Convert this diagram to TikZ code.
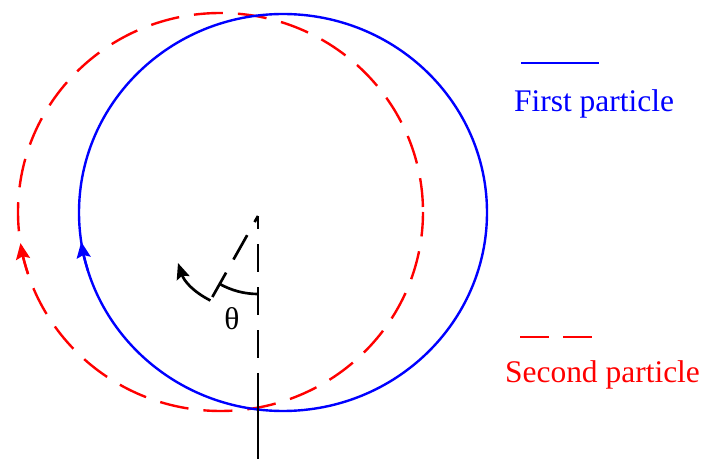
\documentclass[tikz,border=0pt]{standalone}
\usepackage{fontspec}
\setmainfont{Liberation Serif}
\usepackage{tikz}
\usetikzlibrary{arrows.meta,calc}
\definecolor{clFirst}{HTML}{0000FF}
\definecolor{clSecond}{HTML}{FF0000}
\tikzset{
  firstorbit/.style={draw=clFirst, line width=1.8pt},
  secondorbit/.style={draw=clSecond, line width=1.8pt,
                      dash pattern=on 21.75pt off 11.25pt, dash phase=29.25pt},
  refline/.style={draw=black, line width=2pt},
  refdash/.style={refline, dash pattern=on 21pt off 11.25pt, dash phase=21pt},
  orbittip/.style={-{Stealth[length=12pt, width=10.5pt, inset=2pt]}},
  turntip/.style={-{Stealth[length=12pt, width=10pt, inset=2pt]}},
  biglabel/.style={font=\fontsize{23.6}{28}\selectfont, anchor=base, inner sep=0pt},
}

\begin{document}
\begin{tikzpicture}[x=0.75pt, y=0.75pt]
  \useasboundingbox (0,0) rectangle (704,-459);
  % centres of the two orbits and of the angle
  \coordinate (cFirst) at (283,-212.5);
  \coordinate (cSecond) at (220.5,-212);
  \coordinate (pivot) at (258,-216);
  \coordinate (dashEnd) at (258,-373);
  \coordinate (axisEnd) at (258,-459);
  \coordinate (diagEnd) at ($(pivot)+(240.6:108)$);
  \coordinate (turnStart) at ($(pivot)+(240.6:97)$);
  \coordinate (turnEnd) at (178,-263);

  % orbits
  \draw[secondorbit] (cSecond) ellipse [x radius=202.5, y radius=199];
  \draw[firstorbit] (cFirst) ellipse [x radius=204, y radius=198.5];
  \draw[secondorbit, solid, orbittip] ($(cSecond)+(198:202.5 and 199)$)
    arc [start angle=198, end angle=189, x radius=202.5, y radius=199];
  \draw[firstorbit, orbittip] ($(cFirst)+(197:204 and 198.5)$)
    arc [start angle=197, end angle=188.5, x radius=204, y radius=198.5];

  % axis, direction and angle
  \draw[refdash] (dashEnd) -- (pivot);
  \draw[refline] (dashEnd) -- (axisEnd);
  \draw[refdash] (diagEnd) -- (pivot);
  \draw[refline] ($(pivot)+(270:78)$) arc [start angle=270, end angle=240.6, radius=78];
  \draw[refline, turntip] (turnStart) to[bend left=22] (turnEnd);
  \node[biglabel] (theta) at (232,-330) {θ};

  % legend
  \coordinate (firstA) at (521,-63);
  \coordinate (firstB) at (599,-63);
  \draw[firstorbit] (firstA) -- (firstB);
  \node[biglabel, text=clFirst] (firstLabel) at (594,-112) {First particle};
  \coordinate (secondA) at (520,-337);
  \coordinate (secondB) at (592,-337);
  \draw[secondorbit, dash pattern=on 21.75pt off 10.5pt, dash phase=0pt] (secondA) -- (secondB);
  \node[biglabel, text=clSecond] (secondLabel) at (602.5,-383) {Second particle};
\end{tikzpicture}
\end{document}
